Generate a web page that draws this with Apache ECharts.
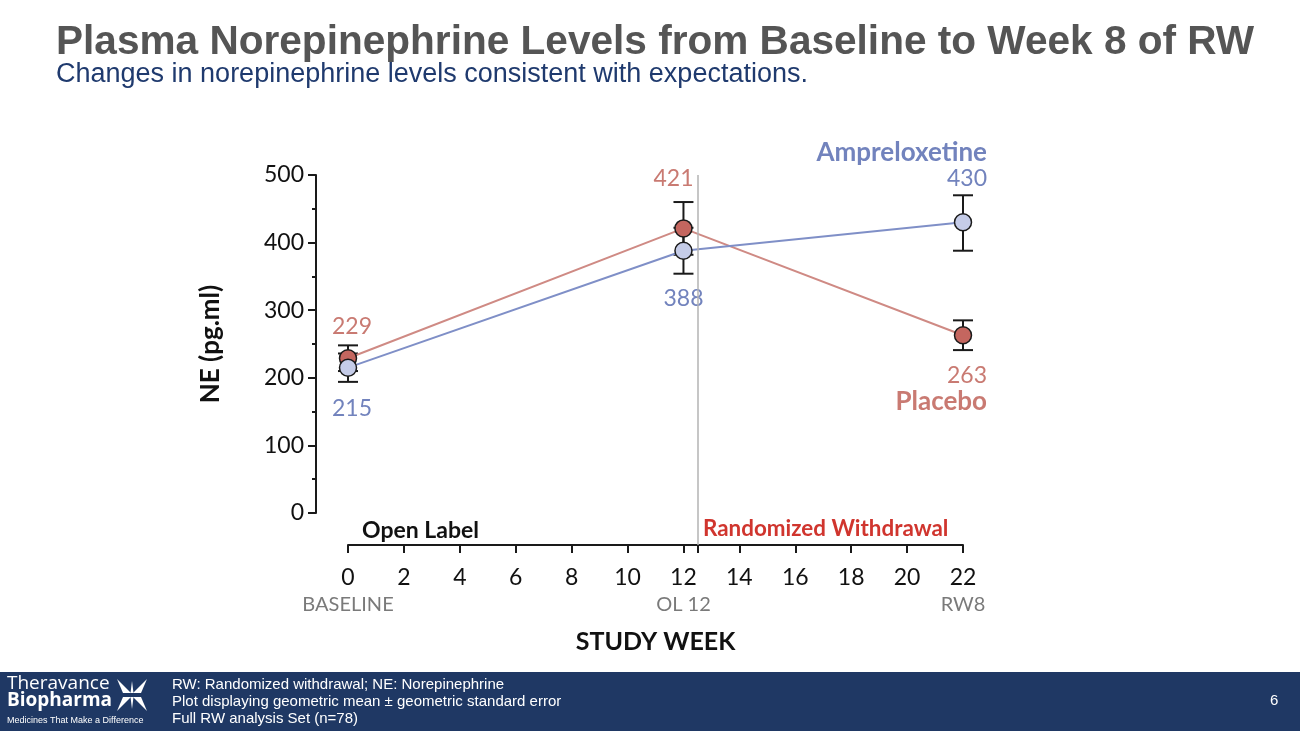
<!DOCTYPE html>
<html>
<head>
<meta charset="utf-8">
<script src="https://cdn.jsdelivr.net/npm/echarts@6/dist/echarts.min.js"></script>
<style>
  html, body { margin: 0; padding: 0; background: #fff; }
  #main { width: 1300px; height: 731px; }
</style>
</head>
<body>
<div id="main"></div>
<script>
// values
var weeks = [0, 12, 22];
var placebo = [229, 421, 263];
var placeboLow = [210, 382, 241];
var placeboHigh = [248, 460, 285];
var amprelox = [215, 388, 430];
var ampreloxLow = [194, 354, 388];
var ampreloxHigh = [236, 422, 470];

var tickWeeks = [0, 2, 4, 6, 8, 10, 12, 14, 16, 18, 20, 22];
var noteWeeks = [0, 12, 22];
var noteText = ['BASELINE', 'OL 12', 'RW8'];
var phaseSplit = 12.5;

var yTicks = [0, 100, 200, 300, 400, 500];

var footNotes = [
	'RW: Randomized withdrawal; NE: Norepinephrine',
	'Plot displaying geometric mean \u00b1 geometric standard error',
	'Full RW analysis Set (n=78)'
];

var PLACEBO_LINE = '#cf8a84', PLACEBO_FILL = '#c4665f', PLACEBO_TEXT = '#c97a72';
var AMP_LINE = '#7f8fc7', AMP_FILL = '#c5cce8', AMP_TEXT = '#7283bd';
var FONT = 'Lato';

var chart = echarts.init(document.getElementById('main'));

function pairs(xs, ys) {
	var out = [];
	for (var i = 0; i < xs.length; i++) out.push([xs[i], ys[i]]);
	return out;
}

function triples(xs, lo, hi) {
	var out = [];
	for (var i = 0; i < xs.length; i++) out.push([xs[i], lo[i], hi[i]]);
	return out;
}

// label placement for each point (above / below and gap)
function labelled(pts, places, gaps, color, lastName) {
	return pts.map(function (p, i) {
		var lbl = {
			show: true,
			position: places[i],
			distance: gaps[i],
			color: color,
			fontFamily: FONT,
			fontSize: 23
		};
		if (i === pts.length - 1) {
			lbl.align = 'right';
			lbl.offset = [24, 0];
			lbl.formatter = places[i] === 'top'
				? '{n|' + lastName + '}\n{v|{@[1]}}'
				: '{v|{@[1]}}\n{n|' + lastName + '}';
			lbl.rich = {
				n: { fontFamily: FONT, fontWeight: 'bold', fontSize: 26, color: color, align: 'right', lineHeight: 27 },
				v: { fontFamily: FONT, fontSize: 23, color: color, align: 'right', lineHeight: 26 }
			};
		}
		if (i === 0) lbl.offset = [4, 0];
		if (i === 1 && places[i] === 'top') lbl.offset = [-10, 0];
		return { value: p, label: lbl };
	});
}

function errorBars(params, api) {
	var x = api.value(0);
	var top = api.coord([x, api.value(2)]);
	var bot = api.coord([x, api.value(1)]);
	var hw = 10;
	var st = { stroke: '#1a1a1a', lineWidth: 2 };
	return {
		type: 'group',
		children: [
			{ type: 'line', shape: { x1: top[0], y1: top[1], x2: bot[0], y2: bot[1] }, style: st },
			{ type: 'line', shape: { x1: top[0] - hw, y1: top[1], x2: top[0] + hw, y2: top[1] }, style: st },
			{ type: 'line', shape: { x1: bot[0] - hw, y1: bot[1], x2: bot[0] + hw, y2: bot[1] }, style: st }
		]
	};
}

var noteOf = {};
noteWeeks.forEach(function (w, i) { noteOf[w] = noteText[i]; });

var option = {
	animation: false,
	backgroundColor: '#ffffff',
	grid: [
		// data area (y=0 at 513px, x=0 at 348px)
		{ left: 316, right: 337, top: 175, bottom: 186 },
		// visible y axis
		{ left: 316, width: 10, top: 175, bottom: 218 },
		// visible x axis
		{ left: 348, right: 337, top: 537, bottom: 186 }
	],
	xAxis: [
		{ gridIndex: 0, type: 'value', min: -1.145, max: 22, show: false },
		{ gridIndex: 1, type: 'value', show: false },
		{
			gridIndex: 2, type: 'value', min: 0, max: 22,
			axisLine: { lineStyle: { color: '#1a1a1a', width: 2 } },
			axisTick: {
				length: 8,
				customValues: tickWeeks.concat([phaseSplit]),
				lineStyle: { color: '#1a1a1a', width: 2 }
			},
			splitLine: { show: false },
			axisLabel: {
				customValues: tickWeeks,
				margin: 19,
				formatter: function (v) {
					return noteOf[v] ? '{n|' + v + '}\n{s|' + noteOf[v] + '}' : '{n|' + v + '}';
				},
				rich: {
					n: { fontFamily: FONT, fontSize: 23, color: '#111', lineHeight: 28 },
					s: { fontFamily: FONT, fontSize: 20, color: '#7a7a7a', lineHeight: 26 }
				}
			},
			name: 'STUDY WEEK',
			nameLocation: 'middle',
			nameGap: 84,
			nameTextStyle: { fontFamily: FONT, fontWeight: 'bold', fontSize: 25, color: '#111' }
		}
	],
	yAxis: [
		{ gridIndex: 0, type: 'value', min: -47.3, max: 500, show: false },
		{
			gridIndex: 1, type: 'value', min: 0, max: 500, interval: 100,
			axisLine: { show: true, lineStyle: { color: '#1a1a1a', width: 2 } },
			axisTick: { show: true, length: 8, lineStyle: { color: '#1a1a1a', width: 2 } },
			minorTick: { show: true, splitNumber: 2, length: 4, lineStyle: { color: '#1a1a1a', width: 2 } },
			splitLine: { show: false },
			axisLabel: {
				margin: 12,
				fontFamily: FONT, fontSize: 23, color: '#111',
				customValues: yTicks
			},
			name: 'NE (pg.ml)',
			nameLocation: 'middle',
			nameGap: 92,
			nameTextStyle: { fontFamily: FONT, fontWeight: 'bold', fontSize: 26, color: '#111' }
		},
		{ gridIndex: 2, type: 'value', min: 0, max: 1, show: false }
	],
	series: [
		{
			name: 'Placebo SE',
			type: 'custom',
			xAxisIndex: 0, yAxisIndex: 0,
			renderItem: errorBars,
			data: triples(weeks, placeboLow, placeboHigh),
			z: 1
		},
		{
			name: 'Ampreloxetine SE',
			type: 'custom',
			xAxisIndex: 0, yAxisIndex: 0,
			renderItem: errorBars,
			data: triples(weeks, ampreloxLow, ampreloxHigh),
			z: 1
		},
		{
			name: 'Placebo',
			type: 'line',
			xAxisIndex: 0, yAxisIndex: 0,
			symbol: 'circle',
			symbolSize: 17,
			lineStyle: { color: PLACEBO_LINE, width: 2 },
			itemStyle: { color: PLACEBO_FILL, borderColor: '#1a1a1a', borderWidth: 1.5 },
			data: labelled(pairs(weeks, placebo), ['top', 'top', 'bottom'], [11, 29, 18], PLACEBO_TEXT, 'Placebo'),
			markLine: {
				silent: true,
				symbol: 'none',
				label: { show: false },
				lineStyle: { color: '#b3b3b3', width: 1.5, type: 'solid' },
				data: [{ xAxis: phaseSplit }]
			},
			z: 3
		},
		{
			name: 'Ampreloxetine',
			type: 'line',
			xAxisIndex: 0, yAxisIndex: 0,
			symbol: 'circle',
			symbolSize: 17,
			lineStyle: { color: AMP_LINE, width: 2 },
			itemStyle: { color: AMP_FILL, borderColor: '#1a1a1a', borderWidth: 1.5 },
			data: labelled(pairs(weeks, amprelox), ['bottom', 'bottom', 'top'], [20, 27, 21], AMP_TEXT, 'Ampreloxetine'),
			z: 4
		}
	],
	graphic: [
		{
			type: 'text', left: 56, top: 22,
			style: { text: 'Plasma Norepinephrine Levels from Baseline to Week 8 of RW', fontFamily: 'Liberation Sans, Arial', fontWeight: 'bold', fontSize: 40.6, fill: '#555555' }
		},
		{
			type: 'text', left: 56, top: 61,
			style: { text: 'Changes in norepinephrine levels consistent with expectations.', fontFamily: 'Liberation Sans, Arial', fontSize: 27, fill: '#1f3a6e' }
		},
		{
			type: 'text', left: 362, top: 519,
			style: { text: 'Open Label', fontFamily: FONT, fontWeight: 'bold', fontSize: 23, fill: '#111' }
		},
		{
			type: 'text', left: 703, top: 518,
			style: { text: 'Randomized Withdrawal', fontFamily: FONT, fontWeight: 'bold', fontSize: 22.4, fill: '#d0352e' }
		},
		// footer band
		{
			type: 'rect', left: 0, top: 672, z: 0,
			shape: { width: 1300, height: 59 },
			style: { fill: '#1f3864' }
		},
		{
			type: 'text', left: 7, top: 674,
			style: { text: 'Theravance', fontFamily: 'Open Sans', fontSize: 19, fill: '#fff' }
		},
		{
			type: 'text', left: 7, top: 691,
			style: { text: 'Biopharma', fontFamily: 'Open Sans', fontWeight: 'bold', fontSize: 19, fill: '#fff' }
		},
		{
			type: 'text', left: 7, top: 716,
			style: { text: 'Medicines That Make a Difference', fontFamily: 'Liberation Sans Narrow, Liberation Sans', fontSize: 9, fill: '#fff' }
		},
		{
			type: 'group', left: 117, top: 679,
			children: [
				{ type: 'polygon', shape: { points: [[0, 0], [14, 14], [6, 14]] }, style: { fill: '#fff' } },
				{ type: 'polygon', shape: { points: [[30, 0], [16, 14], [24, 14]] }, style: { fill: '#fff' } },
				{ type: 'polygon', shape: { points: [[0, 32], [14, 18], [6, 18]] }, style: { fill: '#fff' } },
				{ type: 'polygon', shape: { points: [[30, 32], [16, 18], [24, 18]] }, style: { fill: '#fff' } },
				{ type: 'polygon', shape: { points: [[15, 2], [16.5, 14], [13.5, 14]] }, style: { fill: '#fff' } },
				{ type: 'polygon', shape: { points: [[15, 30], [16.5, 18], [13.5, 18]] }, style: { fill: '#fff' } }
			]
		},
		{
			type: 'text', left: 172, top: 676,
			style: { text: footNotes.join('\n'), lineHeight: 17, fontFamily: 'Liberation Sans, Arial', fontSize: 15, fill: '#fff' }
		},
		{
			type: 'text', left: 1270, top: 693,
			style: { text: '6', fontFamily: 'Liberation Sans, Arial', fontSize: 15, fill: '#fff' }
		}
	]
};

chart.setOption(option);
</script>
</body>
</html>
